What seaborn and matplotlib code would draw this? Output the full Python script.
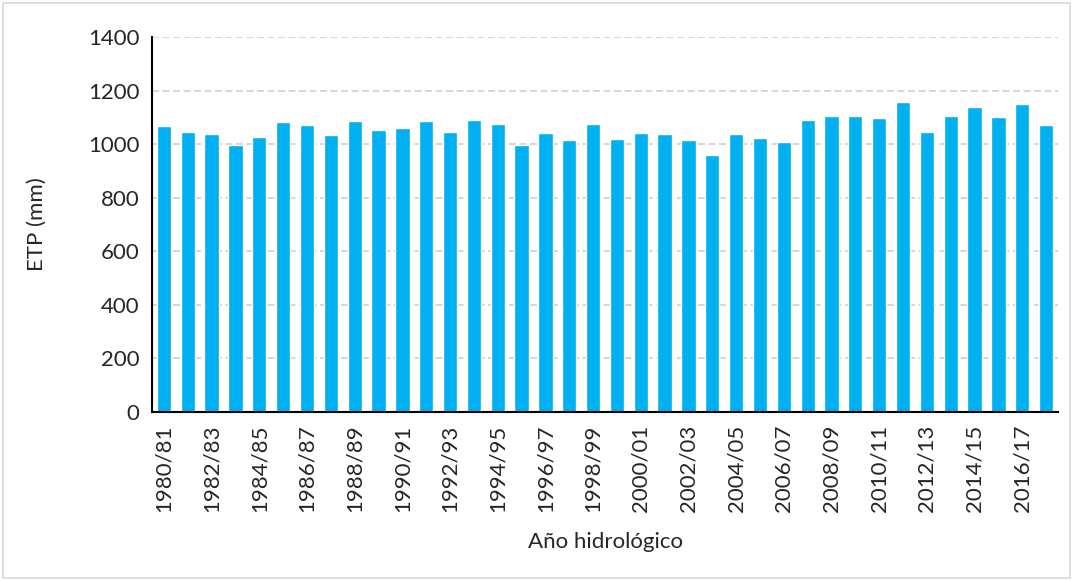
import matplotlib
matplotlib.use("Agg")
import matplotlib.pyplot as plt
import seaborn as sns
import pandas as pd
from matplotlib.patches import Rectangle

years = [f"{y}/{str(y + 1)[-2:]}" for y in range(1980, 2018)]
etp = [1066, 1047, 1038, 998, 1027, 1081, 1072, 1033, 1086, 1052,
       1062, 1086, 1047, 1091, 1076, 998, 1042, 1014, 1076, 1019,
       1042, 1038, 1014, 960, 1037, 1022, 1009, 1091, 1106, 1106,
       1096, 1158, 1047, 1106, 1138, 1101, 1149, 1072]
yticks = [0, 200, 400, 600, 800, 1000, 1200, 1400]

df = pd.DataFrame({"year": years, "etp": etp})

sns.set_theme(style="white")
plt.rcParams["font.family"] = ["Lato", "DejaVu Sans"]

fig = plt.figure(figsize=(10.73, 5.81), dpi=100)
ax = fig.add_axes([0.1417, 0.2909, 0.8443, 0.6454])

sns.barplot(data=df, x="year", y="etp", color="#00B0F0", saturation=1,
            width=0.6, ax=ax, zorder=2)

ax.set_xlim(-0.5, len(years) - 0.5)
ax.set_ylim(0, 1400)
ax.set_yticks(yticks)
ax.set_yticklabels([str(v) for v in yticks], fontsize=16, color="#262626")
ax.set_xticks(range(0, len(years), 2))
ax.set_xticklabels(years[::2], rotation=90, fontsize=16, color="#262626")
ax.tick_params(axis="both", length=0, pad=9)
ax.yaxis.grid(True, linestyle=(0, (3.6, 1.8)), color="#D6D6D6", linewidth=1.4, zorder=0)
ax.set_axisbelow(True)

for s in ["top", "right"]:
    ax.spines[s].set_visible(False)
for s in ["left", "bottom"]:
    ax.spines[s].set_color("black")
    ax.spines[s].set_linewidth(1.5)
    ax.spines[s].set_zorder(5)

ax.set_ylabel("ETP (mm)", fontsize=16, color="#262626", labelpad=30)
ax.set_xlabel("Año hidrológico", fontsize=16, color="#262626", labelpad=14)

fig.patches.append(Rectangle((0.003, 0.005), 0.994, 0.99, transform=fig.transFigure,
                             fill=False, edgecolor="#D9D9D9", linewidth=1.2))

fig.savefig("out.png", dpi=100)
